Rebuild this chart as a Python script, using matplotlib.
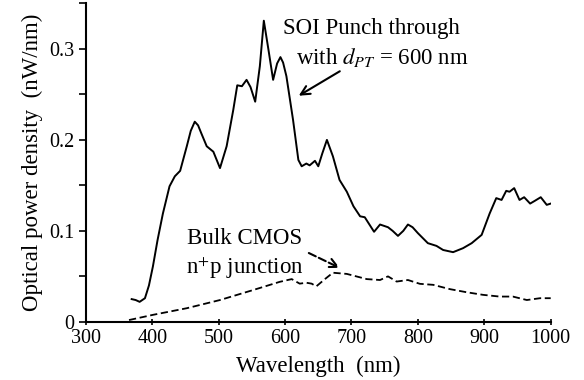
import matplotlib
matplotlib.use("Agg")
import matplotlib.pyplot as plt
from matplotlib.ticker import MultipleLocator, FuncFormatter

plt.rcParams['font.family'] = ['Liberation Serif', 'DejaVu Serif']
plt.rcParams['mathtext.fontset'] = 'stix'

# SOI punch-through spectrum (solid)
soi_wl = [369, 375, 381, 389, 395, 401, 408, 416, 426, 434, 442, 452, 458, 464, 469, 474, 482,
          492, 502, 512, 522, 528, 535, 542, 548, 555, 562, 568, 575, 582, 588, 593, 597, 602,
          612, 620, 625, 632, 637, 645, 650, 656, 663, 672, 682, 693, 703, 713, 720, 727, 734,
          743, 755, 762, 770, 778, 785, 792, 800, 815, 828, 838, 853, 868, 881, 896, 908, 918,
          926, 933, 938, 945, 953, 960, 969, 976, 985, 994, 1000]
soi_val = [0.025, 0.024, 0.022, 0.026, 0.040, 0.061, 0.090, 0.119, 0.149, 0.160, 0.166, 0.193,
           0.210, 0.220, 0.216, 0.207, 0.193, 0.187, 0.169, 0.193, 0.233, 0.260, 0.259, 0.266,
           0.258, 0.242, 0.281, 0.331, 0.299, 0.266, 0.284, 0.291, 0.285, 0.270, 0.222, 0.178,
           0.171, 0.174, 0.172, 0.177, 0.171, 0.185, 0.200, 0.182, 0.156, 0.143, 0.127, 0.116,
           0.115, 0.107, 0.099, 0.107, 0.104, 0.100, 0.0945, 0.100, 0.107, 0.104, 0.0975,
           0.0865, 0.0835, 0.079, 0.0766, 0.081, 0.0865, 0.0956, 0.119, 0.136, 0.134, 0.144,
           0.143, 0.147, 0.134, 0.137, 0.130, 0.133, 0.137, 0.1286, 0.130]

# bulk CMOS n+p junction spectrum (dashed)
cmos_wl = [365, 401, 452, 502, 552, 592, 610, 622, 632, 640, 647, 660, 672, 693, 723, 743,
           755, 768, 785, 803, 823, 848, 873, 898, 923, 943, 964, 984, 1000]
cmos_val = [0.002, 0.0077, 0.015, 0.024, 0.035, 0.044, 0.047, 0.042, 0.043, 0.042, 0.039,
            0.047, 0.054, 0.0527, 0.047, 0.046, 0.050, 0.0443, 0.046, 0.0418, 0.0407, 0.036,
            0.0326, 0.0297, 0.0278, 0.0278, 0.024, 0.026, 0.026]

fig = plt.figure(figsize=(5.84, 3.8), dpi=100)
ax = fig.add_axes([0.147, 0.153, 0.796, 0.838])

ax.plot(soi_wl, soi_val, color='black', lw=1.4)
ax.plot(cmos_wl, cmos_val, color='black', lw=1.3, dashes=(4, 2))

ax.set_xlim(300, 1000)
ax.set_ylim(0, 0.35)
ax.xaxis.set_major_locator(MultipleLocator(100))
ax.yaxis.set_major_locator(MultipleLocator(0.1))
ax.yaxis.set_minor_locator(MultipleLocator(0.05))
ax.yaxis.set_major_formatter(FuncFormatter(lambda v, p: '0' if v == 0 else f'{v:.1f}'))

for s in ['top', 'right']:
    ax.spines[s].set_visible(False)
for s in ['left', 'bottom']:
    ax.spines[s].set_linewidth(1.5)

ax.tick_params(axis='x', direction='inout', length=5, width=1.2, labelsize=14.5, pad=3)
ax.tick_params(axis='y', which='major', direction='out', length=5, width=1.2, labelsize=14.5, pad=3)
ax.tick_params(axis='y', which='minor', direction='out', length=5, width=1.2)

ax.set_xlabel('Wavelength  (nm)', fontsize=16.5, labelpad=5)
ax.set_ylabel('Optical power density  (nW/nm)', fontsize=16.5, labelpad=5)

ax.text(730, 0.322, 'SOI Punch through', fontsize=16.5, ha='center', va='center')
ax.text(746, 0.291, r'with $d_{PT}$ = 600 nm', fontsize=16.5, ha='center', va='center')
ax.annotate('', xy=(617, 0.247), xytext=(686, 0.277),
            arrowprops=dict(arrowstyle='->', color='black', lw=1.5, mutation_scale=16))

ax.text(539, 0.092, 'Bulk CMOS', fontsize=16.5, ha='center', va='center')
ax.text(539, 0.059, r'n$^{+}$p junction', fontsize=16.5, ha='center', va='center')
ax.annotate('', xy=(686, 0.058), xytext=(632, 0.077),
            arrowprops=dict(arrowstyle='->', color='black', lw=1.5, linestyle='--',
                            mutation_scale=16))

fig.savefig('out.png', dpi=100)
